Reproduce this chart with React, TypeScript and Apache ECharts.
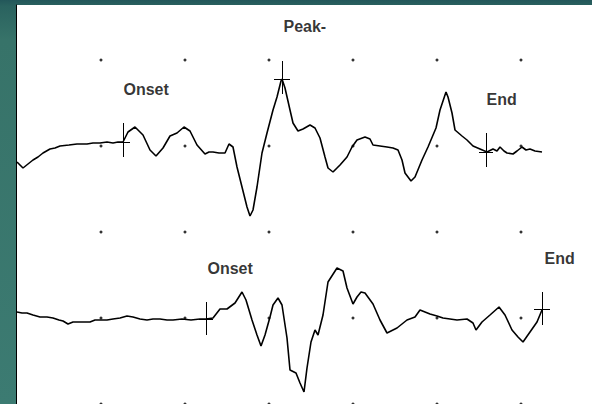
import React, { useEffect, useRef } from "react";
import * as echarts from "echarts";

// Upper trace: [time (px units), amplitude]
const trace1: [number, number][] = [
  [0, 242], [6, 236], [11, 240], [16, 244], [21, 247], [26, 251], [33, 255], [38, 256], [43, 258],
  [52, 259], [60, 260], [70, 260], [76, 261], [83, 261], [90, 262], [96, 261], [101, 262], [106, 262],
  [111, 272], [118, 277], [126, 269], [133, 254], [139, 248], [146, 256], [153, 268], [160, 271],
  [167, 277], [173, 273], [180, 259], [188, 250], [192, 252], [196, 252], [202, 251], [208, 251],
  [212, 260], [216, 257], [220, 237], [225, 217], [230, 197], [233, 188], [236, 194], [240, 217],
  [245, 251], [250, 271], [256, 294], [260, 307], [264, 323], [265, 325], [268, 316], [273, 294],
  [276, 281], [281, 273], [286, 275], [293, 279], [298, 276], [303, 266], [308, 247], [311, 236],
  [316, 232], [323, 239], [330, 247], [335, 257], [340, 264], [348, 267], [353, 265], [356, 259],
  [363, 258], [370, 257], [376, 256], [381, 254], [385, 244], [388, 231], [394, 223], [398, 227],
  [405, 244], [411, 257], [419, 276], [423, 294], [429, 312], [431, 307], [435, 291], [438, 274],
  [445, 268], [450, 264], [456, 258], [463, 255], [470, 252], [476, 255], [480, 253], [483, 257],
  [487, 253], [490, 251], [496, 250], [500, 253], [505, 257], [509, 254], [513, 255], [518, 253],
  [525, 252],
];

// Lower trace
const trace2: [number, number][] = [
  [0, 92], [5, 91], [10, 91], [16, 89], [23, 87], [30, 87], [36, 86], [42, 84], [46, 83], [51, 80],
  [56, 82], [60, 82], [66, 82], [73, 82], [78, 84], [83, 84], [90, 84], [96, 85], [103, 86], [110, 88],
  [116, 87], [123, 85], [130, 84], [136, 85], [143, 85], [150, 84], [156, 84], [165, 85], [174, 84],
  [183, 85], [189, 85], [196, 86], [203, 95], [210, 95], [218, 101], [225, 112], [229, 104], [235, 84],
  [240, 69], [244, 58], [248, 69], [253, 87], [256, 99], [261, 106], [265, 99], [270, 66], [273, 34],
  [279, 31], [283, 21], [287, 12], [290, 36], [294, 62], [298, 74], [301, 69], [306, 89], [311, 122],
  [320, 136], [326, 133], [330, 116], [336, 100], [340, 107], [344, 112], [348, 111], [356, 100],
  [363, 84], [370, 71], [380, 76], [390, 84], [398, 87], [403, 94], [408, 92], [413, 90], [420, 88],
  [426, 86], [433, 85], [440, 84], [450, 85], [456, 81], [459, 74], [465, 82], [473, 89], [482, 97],
  [488, 89], [495, 74], [501, 67], [506, 62], [513, 72], [520, 82], [525, 94],
];

// Cursor markers: time, low, high, level, half-width
const markerNames = ["Onset", "Peak-", "End", "Onset", "End"];
const markerTrace = [1, 1, 1, 2, 2];
const markerX = [106, 265, 469, 189, 525];
const markerLow = [247, 310, 237, 69, 79];
const markerHigh = [281, 343, 271, 102, 112];
const markerLevel = [262, 325, 252, 85, 95];
const markerHalf = [7, 8, 7, 7, 8];

// Text labels
const labelNames = ["Onset", "Peak-", "End", "Onset", "End"];
const labelX = [106, 266, 469, 190, 527];
const labelY = [315, 378, 305, 136, 146];

// Division grid
const divX = [84, 168, 252, 336, 420, 504];
const divY = [0, 86, 172, 258, 344];

export default function App() {
  const ref = useRef<HTMLDivElement>(null);
  useEffect(() => {
    if (!ref.current) return;
    const chart = echarts.init(ref.current, undefined, { renderer: "svg" });

    const dots: [number, number][] = [];
    divX.forEach((x) => divY.forEach((y) => dots.push([x, y])));

    const markLines = (t: number) => {
      const out: any[] = [];
      markerX.forEach((x, i) => {
        if (markerTrace[i] !== t) return;
        out.push([{ coord: [x, markerLow[i]] }, { coord: [x, markerHigh[i]] }]);
        out.push([
          { coord: [x - markerHalf[i], markerLevel[i]] },
          { coord: [x + markerHalf[i], markerLevel[i]] },
        ]);
      });
      return out;
    };

    const traceSeries = (data: [number, number][], t: number) => ({
      type: "line",
      data,
      showSymbol: false,
      symbol: "none",
      z: 3,
      lineStyle: { color: "#000", width: 1.6 },
      markLine: {
        silent: true,
        symbol: ["none", "none"],
        label: { show: false },
        lineStyle: { color: "#000", width: 1, type: "solid" },
        data: markLines(t),
      },
    });

    chart.setOption({
      animation: false,
      backgroundColor: {
        type: "linear",
        x: 0,
        y: 0,
        x2: 0,
        y2: 1,
        colorStops: [
          { offset: 0, color: "#23575a" },
          { offset: 0.015, color: "#2a625f" },
          { offset: 0.1, color: "#377369" },
          { offset: 1, color: "#3c7b72" },
        ],
      },
      grid: {
        left: 16,
        top: 5,
        right: 0,
        bottom: 0,
        show: true,
        backgroundColor: "#ffffff",
        borderWidth: 0,
      },
      xAxis: {
        type: "value",
        min: -1,
        max: 575,
        axisLine: { show: false },
        axisTick: { show: false },
        axisLabel: { show: false },
        splitLine: { show: false },
      },
      yAxis: {
        type: "value",
        min: 0,
        max: 399,
        axisLine: { show: true, onZero: false, lineStyle: { color: "#000", width: 1 } },
        axisTick: { show: false },
        axisLabel: { show: false },
        splitLine: { show: false },
      },
      series: [
        {
          type: "scatter",
          data: dots,
          symbol: "circle",
          symbolSize: 3,
          itemStyle: { color: "#000" },
          silent: true,
          z: 1,
        },
        traceSeries(trace1, 1),
        traceSeries(trace2, 2),
        {
          type: "scatter",
          data: labelNames.map((n, i) => ({ name: n, value: [labelX[i], labelY[i]] })),
          symbolSize: 1,
          itemStyle: { color: "rgba(0,0,0,0)" },
          silent: true,
          z: 4,
          label: {
            show: true,
            position: "right",
            distance: 0,
            formatter: (p: any) => p.name,
            fontFamily: "Liberation Sans, Arial, sans-serif",
            fontWeight: "bold",
            fontSize: 16,
            color: "#000",
          },
        },
      ],
    });
    return () => chart.dispose();
  }, []);

  return (
    <div
      ref={ref}
      style={{ position: "fixed", left: 0, top: 0, width: 592, height: 404 }}
    />
  );
}
